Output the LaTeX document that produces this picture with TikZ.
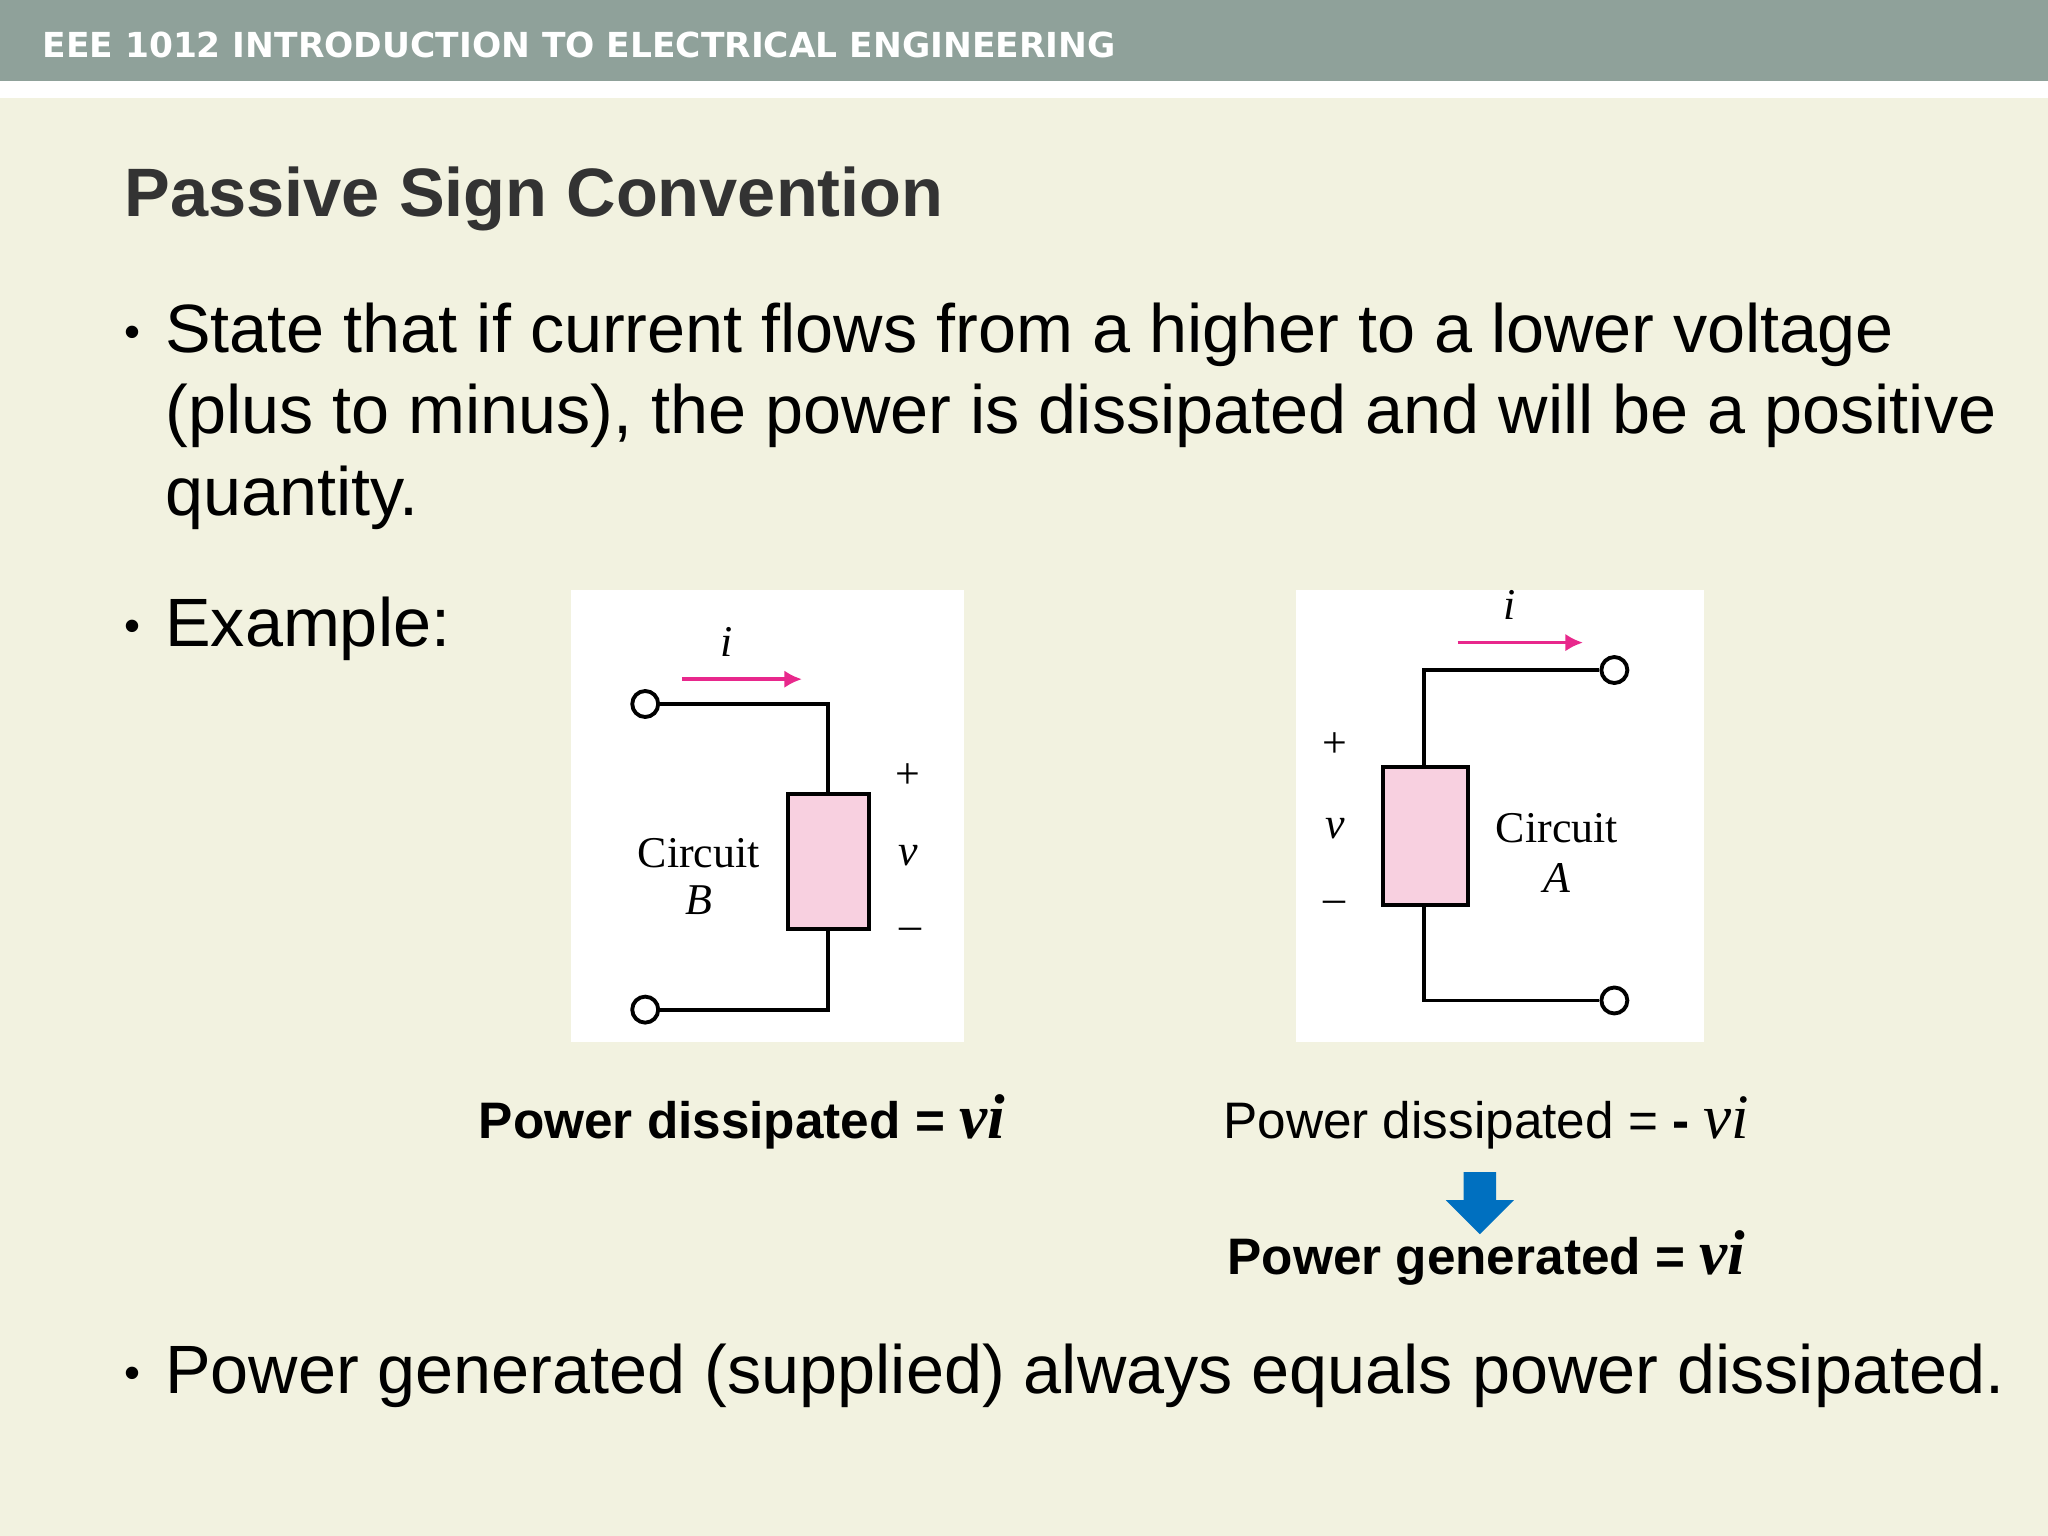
\documentclass[tikz,border=0pt]{standalone}
\usepackage{fontspec}
\setmainfont{Liberation Sans}
\newfontfamily\serifA{Liberation Serif}
\newfontfamily\hdr{DejaVu Sans}
\usetikzlibrary{shapes.arrows,arrows.meta}
\definecolor{bg}{HTML}{F2F2E0}
\definecolor{bar}{HTML}{8FA19A}
\definecolor{ttl}{HTML}{333333}
\definecolor{pinkr}{HTML}{F8D0E0}
\definecolor{mag}{HTML}{E8288C}
\definecolor{blu}{HTML}{0070C0}
\tikzset{
 body/.style={anchor=base west,inner sep=0,font=\fontsize{19.45}{23}\selectfont},
 bul/.style={anchor=base west,inner sep=0,font=\fontsize{13}{23}\selectfont},
 ckt/.style={anchor=base,inner sep=0,font=\serifA\fontsize{12.5}{15}\selectfont},
 plab/.style={anchor=base,inner sep=0,font=\fontsize{14.6}{17}\selectfont},
 wire/.style={line width=1.1pt},
 term/.style={circle,draw,line width=1.1pt,fill=white,minimum size=0.26cm,inner sep=0},
 res/.style={draw,line width=1.1pt,fill=pinkr},
 iarr/.style={mag,line width=1pt,-{Latex[length=5pt,width=5pt]}}
}
\begin{document}
\begin{tikzpicture}[x=0.013061cm,y=-0.013061cm]
\fill[bg] (0,0) rectangle (1568,1176);
\useasboundingbox (0,0) rectangle (1568,1176);
\fill[bar] (0,0) rectangle (1568,62);
\fill[white] (0,62) rectangle (1568,75);
\node[anchor=base west,inner sep=0,text=white,font=\hdr\bfseries\fontsize{9.8}{11}\selectfont] (hd) at (32,44) {EEE 1012 INTRODUCTION TO ELECTRICAL ENGINEERING};
\node[anchor=base west,inner sep=0,text=ttl,font=\bfseries\fontsize{19.5}{23}\selectfont] (tt) at (95,166) {Passive Sign Convention};
\node[bul] (b1) at (95,266) {•};
\node[body] (l1) at (126,270) {State that if current flows from a higher to a lower voltage};
\node[body] (l2) at (126,332) {(plus to minus), the power is dissipated and will be a positive};
\node[body] (l3) at (126,395) {quantity.};
\node[bul] (b2) at (95,491) {•};
\node[body] (ex) at (126,495) {Example:};
\node[bul] (b3) at (95,1063) {•};
\node[body] (l4) at (126,1067) {Power generated (supplied) always equals power dissipated.};
% circuit B
\fill[white] (437,452) rectangle (738,798);
\draw[res] (603,608) rectangle (665,711);
\node[term] (tb1) at (494,539) {};
\node[term] (tb2) at (494,773) {};
\coordinate (rbt) at (634,608); \coordinate (rbb) at (634,711);
\draw[wire] (tb1) -- (634,539) -- (rbt);
\draw[wire] (rbb) -- (634,773) -- (tb2);
\coordinate (ib1) at (522,520); \coordinate (ib2) at (614,520);
\draw[iarr] (ib1) -- (ib2);
\node[ckt] (ibl) at (556,503) {\itshape i};
\node[ckt] (pb) at (695,604) {+};
\node[ckt] (vb) at (695,663) {\itshape v};
\node[ckt] (mb) at (697,719) {–};
\node[ckt] (cb1) at (535,664) {Circuit};
\node[ckt] (cb2) at (535,700) {\itshape B};
% circuit A
\fill[white] (992,452) rectangle (1305,798);
\draw[res] (1059,587) rectangle (1124,693);
\node[term] (ta1) at (1236,513) {};
\node[term] (ta2) at (1236,766) {};
\coordinate (rat) at (1090,587); \coordinate (rab) at (1090,693);
\draw[wire] (ta1) -- (1090,513) -- (rat);
\draw[wire] (rab) -- (1090,766) -- (ta2);
\coordinate (ia1) at (1116,492); \coordinate (ia2) at (1212,492);
\draw[iarr] (ia1) -- (ia2);
\node[ckt] (ial) at (1156,474) {\itshape i};
\node[ckt] (pa) at (1022,580) {+};
\node[ckt] (va) at (1022,642) {\itshape v};
\node[ckt] (ma) at (1022,699) {–};
\node[ckt] (ca1) at (1192,645) {Circuit};
\node[ckt] (ca2) at (1192,683) {\itshape A};
% labels
\node[plab] (pdb) at (568,872) {\bfseries Power dissipated = {\serifA\itshape\fontsize{18}{20}\selectfont vi}};
\node[plab] (pda) at (1138,872) {Power dissipated = \textbf{-} {\serifA\itshape\fontsize{18}{20}\selectfont vi}};
\node[single arrow,fill=blu,shape border rotate=270,minimum height=0.62cm,minimum width=0.68cm,single arrow head extend=0.14cm,inner sep=0.12cm] (ar) at (1133,915) {};
\node[plab] (pg) at (1138,976) {\bfseries Power generated = {\serifA\itshape\fontsize{18}{20}\selectfont vi}};
\end{tikzpicture}
\end{document}
